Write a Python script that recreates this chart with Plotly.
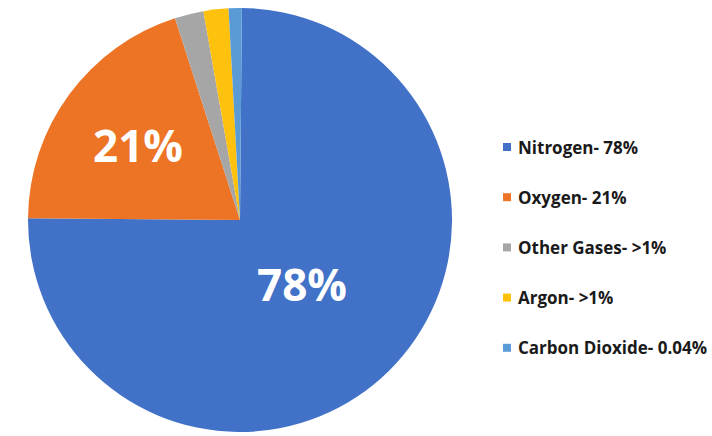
import math
import plotly.graph_objects as go

labels = ["Nitrogen", "Oxygen", "Other Gases", "Argon", "Carbon Dioxide"]
values = [75.0, 19.9, 2.2, 1.9, 1.0]
slice_text = ["78%", "21%", "", "", ""]
legend_text = ["Nitrogen- 78%", "Oxygen- 21%", "Other Gases- >1%", "Argon- >1%", "Carbon Dioxide- 0.04%"]
colors = ["#4172C8", "#EC7424", "#A6A6A6", "#FDC10E", "#5B9BD5"]

W, H = 712, 436
CX, CY, R = 240, 220, 212   # pie centre / radius in pixels
ROT = 0.5
label_radius = [0.42, 0.60, 0.6, 0.6, 0.6]

fig = go.Figure()
fig.add_trace(go.Pie(
    labels=labels,
    values=values,
    textinfo="none",
    marker=dict(colors=colors, line=dict(width=0)),
    sort=False,
    direction="clockwise",
    rotation=ROT,
    showlegend=False,
    hoverinfo="label+percent",
    domain=dict(x=[(CX - R) / W, (CX + R) / W], y=[1 - (CY + R) / H, 1 - (CY - R) / H]),
))

# slice labels, placed at each slice's mid-angle
total = sum(values)
cum = 0.0
for v, t, rf in zip(values, slice_text, label_radius):
    mid = ROT + (cum + v / 2) / total * 360
    cum += v
    if not t:
        continue
    a = math.radians(mid)
    px = CX + rf * R * math.sin(a)
    py = CY - rf * R * math.cos(a)
    fig.add_annotation(xref="paper", yref="paper", x=px / W, y=1 - py / H,
                       xanchor="center", yanchor="middle", showarrow=False,
                       text="<b>" + t + "</b>",
                       font=dict(family="Open Sans", size=44, color="white"))

# custom legend with wide spacing
legend_top = 147
legend_step = 50.2
for i, (t, c) in enumerate(zip(legend_text, colors)):
    yc = legend_top + i * legend_step
    fig.add_shape(type="rect", xref="paper", yref="paper",
                  x0=503 / W, x1=511 / W,
                  y0=1 - (yc + 4) / H, y1=1 - (yc - 4) / H,
                  fillcolor=c, line=dict(width=0))
    fig.add_annotation(xref="paper", yref="paper", x=516 / W, y=1 - yc / H,
                       xanchor="left", yanchor="middle", showarrow=False,
                       text="<b>" + t + "</b>",
                       font=dict(family="Open Sans", size=17, color="#1a1a1a"))

fig.update_layout(
    width=W, height=H,
    margin=dict(l=0, r=0, t=0, b=0),
    paper_bgcolor="white",
    plot_bgcolor="white",
)

fig.write_html("out.html", config={"displayModeBar": False},
               post_script="document.body.style.margin='0';document.body.style.overflow='hidden';")
